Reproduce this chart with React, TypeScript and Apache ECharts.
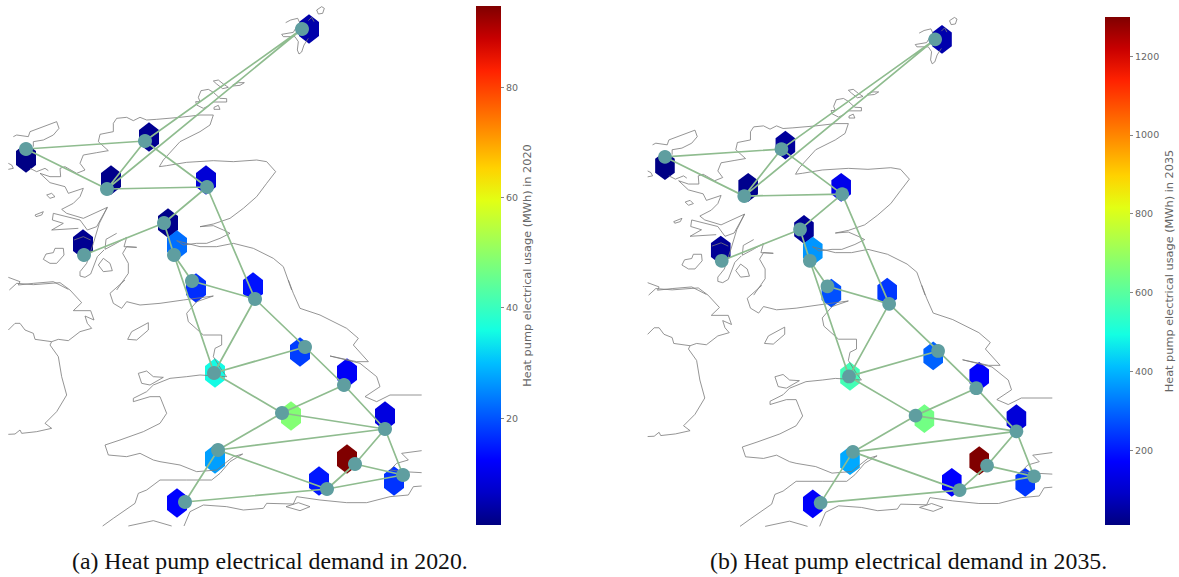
import React, { useEffect, useRef } from "react";
import * as echarts from "echarts";

const HEX_POS: number[][] = [
  [309, 29], [149, 137], [26, 158], [111, 180], [206, 180], [168, 223], [177, 245], [83, 244], [196, 288], [253, 287],
  [300, 352], [215, 373], [347, 373], [291, 416], [385, 416], [215, 459], [347, 459], [319, 481], [394, 481], [177, 503],
];
const VALUES_2020 = [4, 2, 1, 1.5, 8, 1.5, 22.5, 2, 16.5, 14, 18, 35.5, 11.5, 48.5, 9, 27, 94.7, 14.5, 17, 12.5];
const VALUES_2035 = [60, 40, 15, 25, 140, 35, 360, 35, 270, 240, 295, 565, 165, 640, 115, 385, 1299, 170, 240, 165];

const NODES: number[][] = [
  [302, 29], [145, 141], [26, 149], [107, 189], [207, 187], [164, 223], [174, 255], [84, 255], [192, 281], [255, 299],
  [305, 347], [214, 373], [344, 385], [282, 413], [385, 429], [218, 450], [355, 464], [327, 489], [403, 475], [185, 502],
];
const EDGES: number[][] = [
  [0, 1], [0, 3], [1, 2], [1, 3], [1, 4], [2, 3], [3, 4], [4, 5], [5, 6], [5, 7], [6, 8], [6, 11], [8, 9], [4, 9], [9, 11], [9, 10],
  [10, 11], [10, 12], [11, 13], [12, 13], [12, 14], [13, 14], [13, 15], [14, 15], [14, 16], [14, 18], [15, 17], [15, 19], [16, 17], [16, 18], [17, 18], [17, 19],
];

const COAST_NORTH: number[][][] = [
  [[857, 68], [872, 60], [893, 55], [900, 70], [890, 80], [880, 97], [845, 103], [850, 110], [885, 110], [895, 125], [892, 150], [897, 162], [905, 156], [912, 135], [925, 115]],
  [[925, 62], [935, 52], [942, 65]],
  [[950, 30], [965, 20], [973, 25], [968, 40], [955, 42], [950, 30]],
  [[640, 243], [655, 240], [670, 252], [685, 262], [668, 266], [650, 252], [640, 243]],
  [[698, 255], [715, 248], [733, 248], [720, 256], [698, 258]],
  [[595, 292], [603, 272], [625, 268], [640, 277], [660, 295], [680, 296], [680, 306], [640, 306], [625, 318], [610, 325], [590, 315], [587, 305], [600, 305], [595, 292]],
  [[642, 322], [655, 316], [660, 328], [642, 328], [642, 322]],
  [[40, 410], [50, 405], [85, 410], [90, 395], [170, 365], [177, 385], [160, 405], [130, 420], [100, 425], [100, 440]],
  [[25, 490], [35, 495], [40, 505], [25, 508]],
  [[90, 505], [110, 515], [135, 505], [145, 512]],
  [[640, 345], [600, 345], [540, 352], [470, 358], [440, 360], [420, 352], [400, 362], [380, 352], [350, 355], [340, 370], [340, 395], [300, 403], [295, 425], [325, 452], [290, 458], [250, 465], [240, 490], [255, 510], [230, 520], [195, 500], [180, 505], [182, 530], [150, 530], [120, 520], [150, 548], [195, 560], [205, 580], [250, 565], [240, 590], [220, 610], [185, 628], [200, 640], [250, 655], [322, 622], [290, 680], [262, 690], [240, 660], [160, 640], [157, 660], [190, 670], [155, 690], [235, 685]],
  [[640, 345], [630, 375], [600, 395], [540, 425], [490, 480], [478, 500], [500, 497], [560, 487], [640, 482], [700, 485], [770, 480], [800, 485], [827, 515], [800, 550], [770, 590], [730, 625], [690, 655], [640, 672], [600, 680], [640, 677], [670, 690], [690, 700], [660, 715], [620, 730], [590, 730], [550, 735], [530, 722], [560, 730], [600, 740], [650, 740], [700, 730], [760, 745], [820, 775], [850, 800], [875, 870]],
  [[130, 778], [138, 762], [160, 758], [165, 745], [190, 745], [192, 765], [170, 790], [150, 790], [130, 778]],
  [[222, 720], [250, 710], [272, 720]],
  [[350, 700], [318, 718], [315, 748], [345, 732], [380, 712], [372, 740], [410, 742], [380, 740], [368, 760], [385, 790], [385, 820], [350, 870]],
  [[322, 622], [298, 670], [280, 730], [260, 790], [240, 815], [240, 828], [255, 832], [272, 822], [292, 770], [312, 750]],
  [[295, 795], [310, 775], [330, 790], [337, 812], [310, 815], [295, 795]],
  [[140, 585], [155, 580], [165, 590], [150, 595], [140, 585]],
  [[105, 645], [130, 635], [125, 645], [108, 650], [105, 645]],
  [[25, 832], [60, 845], [55, 855], [100, 850], [160, 845], [205, 868]],
];
const COAST_SOUTH: number[][][] = [
  [[28, 30], [50, 10], [100, 14], [180, 8], [210, 30], [245, 68], [220, 92], [272, 92], [282, 120], [255, 108], [262, 130], [275, 145], [240, 155], [205, 182], [175, 178], [155, 185], [105, 178], [100, 160], [75, 150], [60, 130], [45, 130], [25, 150]],
  [[155, 185], [150, 195], [175, 230], [185, 290], [200, 345], [170, 395], [135, 430], [155, 445], [110, 455], [65, 460], [60, 450], [45, 462], [25, 463]],
  [[375, 0], [330, 40], [340, 70], [365, 85], [380, 65], [420, 75], [480, 70], [550, 60], [640, 48], [590, 65], [560, 100], [565, 125], [610, 165], [665, 165], [665, 195], [645, 205], [640, 230], [665, 270], [680, 290], [600, 285], [560, 290], [510, 295], [460, 315], [440, 335], [400, 355], [400, 365], [450, 350], [480, 350], [490, 375], [500, 400], [480, 430], [430, 455], [360, 480], [315, 495], [325, 525], [380, 530], [420, 520], [460, 540], [480, 545], [540, 555], [590, 575], [650, 570], [700, 530], [728, 522], [690, 545], [660, 580], [635, 600], [560, 600], [480, 600], [440, 630], [415, 640], [405, 670], [340, 715], [308, 738]],
  [[383, 178], [395, 155], [445, 128], [445, 150], [410, 180], [383, 178]],
  [[415, 280], [440, 273], [460, 290], [490, 292], [450, 315], [425, 310], [415, 280]],
  [[385, 738], [460, 722], [515, 738]],
  [[552, 738], [570, 695], [610, 675], [680, 680], [730, 690], [790, 685], [800, 670], [880, 672], [890, 650], [960, 660], [1040, 668], [1100, 668], [1170, 650], [1225, 645], [1240, 620], [1265, 618]],
  [[858, 680], [895, 668], [930, 680], [900, 692], [858, 680]],
  [[1265, 512], [1205, 520], [1225, 540], [1190, 550], [1170, 570], [1210, 575], [1265, 578]],
  [[865, 0], [880, 40], [900, 85], [960, 105], [1040, 145], [1075, 175], [1060, 195], [1105, 245], [1070, 245], [990, 228], [1080, 250], [1130, 290], [1140, 320], [1095, 350], [1130, 365], [1170, 345], [1265, 345]],
];

const JET = ["#000080", "#0000c8", "#0000ff", "#0040ff", "#0080ff", "#00bfff", "#14ffe2", "#48ffaf", "#7bff7b", "#afff48", "#e2ff14", "#ffd200", "#ff9600", "#ff5c00", "#ff2200", "#c80000", "#800000"];

const TICKS_2020 = [20, 40, 60, 80];
const TICKS_2035 = [200, 400, 600, 800, 1000, 1200];
const RANGE_2020 = [0.6, 94.7];
const RANGE_2035 = [10, 1299];
const CAPTIONS = ["(a) Heat pump electrical demand in 2020.", "(b) Heat pump electrical demand in 2035."];
const BAR_NAMES = ["Heat pump electrical usage (MWh) in 2020", "Heat pump electrical usage (MWh) in 2035"];

const HEX = "path://M10,0 L20,7.5 L20,21.5 L10,29 L0,21.5 L0,7.5 Z";
const MAP_W = 460;
const MAP_H = 530;
const INK = "#666666";

function flatten(lines: number[][][], f: (p: number[]) => number[]) {
  const out: any[] = [];
  lines.forEach((l) => {
    l.forEach((p) => out.push(f(p)));
    out.push(["-", "-"]);
  });
  return out;
}
const coastData = [
  ...flatten(COAST_NORTH, ([x, y]) => [x / 3, y / 3]),
  ...flatten(COAST_SOUTH, ([x, y]) => [x / 3, 280 + y / 3]),
];
const edgeData = flatten(EDGES.map(([a, b]) => [NODES[a], NODES[b]]), (p) => p);

function mapSeries(i: number, values: number[], k: number) {
  return [
    { type: "scatter", xAxisIndex: i, yAxisIndex: i, z: 2, symbol: HEX, symbolSize: [20 * k, 29.3 * k], data: HEX_POS.map((p, j) => [p[0], p[1], values[j]]), itemStyle: { opacity: 1 }, silent: true },
    { type: "line", xAxisIndex: i, yAxisIndex: i, z: 3, symbol: "none", connectNulls: false, data: coastData, lineStyle: { color: "#7a7a7a", width: 0.8 }, silent: true },
    { type: "line", xAxisIndex: i, yAxisIndex: i, z: 4, symbol: "none", connectNulls: false, data: edgeData, lineStyle: { color: "#8fbc8f", width: 1.7 }, silent: true },
    { type: "scatter", xAxisIndex: i, yAxisIndex: i, z: 5, symbol: "circle", symbolSize: 14 * k, data: NODES, itemStyle: { color: "#5f9ea0", opacity: 1 }, silent: true },
  ];
}

function barSeries(i: number, max: number) {
  const grad = new echarts.graphic.LinearGradient(0, 1, 0, 0, JET.map((color, n) => ({ offset: n / (JET.length - 1), color })));
  return { type: "bar", xAxisIndex: i, yAxisIndex: i, barWidth: "100%", data: [max], itemStyle: { color: grad, opacity: 1 }, silent: true };
}

function barAxes(i: number, range: number[], ticks: number[], name: string, gap: number) {
  return {
    x: { type: "category", gridIndex: i, data: ["c"], show: false },
    y: {
      type: "value", gridIndex: i, position: "right", min: range[0], max: range[1],
      splitLine: { show: false }, axisLine: { show: false },
      axisTick: { show: true, length: 3, customValues: ticks, lineStyle: { color: INK, width: 0.8 } },
      axisLabel: { show: true, customValues: ticks, margin: 5, color: INK, fontFamily: "DejaVu Sans", fontSize: 9.5, formatter: (v: number) => String(v) },
      name, nameLocation: "middle", nameRotate: 90, nameGap: gap,
      nameTextStyle: { color: INK, fontFamily: "DejaVu Sans", fontSize: 11.3 },
    },
  };
}

export default function App() {
  const ref = useRef<HTMLDivElement>(null);
  useEffect(() => {
    document.body.style.margin = "0";
    const chart = echarts.init(ref.current!, undefined, { renderer: "svg" });
    const bar0 = barAxes(2, RANGE_2020, TICKS_2020, BAR_NAMES[0], 20);
    const bar1 = barAxes(3, RANGE_2035, TICKS_2035, BAR_NAMES[1], 34);
    const hidden = (gridIndex: number, max: number, inverse: boolean) => ({ type: "value", gridIndex, min: 0, max, inverse, show: false, splitLine: { show: false } });
    const capStyle = { fontFamily: "Liberation Serif", fontSize: 23.8, fontWeight: "normal", color: "#111" };
    chart.setOption({
      animation: false,
      backgroundColor: "#ffffff",
      title: [
        { text: CAPTIONS[0], left: 72, top: 549, textStyle: capStyle, padding: 0 },
        { text: CAPTIONS[1], left: 710, top: 549, textStyle: capStyle, padding: 0 },
      ],
      grid: [
        { left: 0, top: 0, width: MAP_W, height: MAP_H },
        { left: 639.5, top: 10.9, width: MAP_W * 0.979, height: MAP_H * 0.98 },
        { left: 476, top: 6, width: 25, height: 519 },
        { left: 1105, top: 17, width: 25, height: 508 },
      ],
      xAxis: [hidden(0, MAP_W, false), hidden(1, MAP_W, false), bar0.x, bar1.x],
      yAxis: [hidden(0, MAP_H, true), hidden(1, MAP_H, true), bar0.y, bar1.y],
      visualMap: [
        { show: false, type: "continuous", seriesIndex: 0, dimension: 2, min: RANGE_2020[0], max: RANGE_2020[1], inRange: { color: JET } },
        { show: false, type: "continuous", seriesIndex: 4, dimension: 2, min: RANGE_2035[0], max: RANGE_2035[1], inRange: { color: JET } },
      ],
      series: [
        ...mapSeries(0, VALUES_2020, 1),
        ...mapSeries(1, VALUES_2035, 0.98),
        barSeries(2, RANGE_2020[1]),
        barSeries(3, RANGE_2035[1]),
      ],
    });
    return () => chart.dispose();
  }, []);
  return <div ref={ref} style={{ position: "absolute", left: 0, top: 0, width: 1179, height: 577 }} />;
}
